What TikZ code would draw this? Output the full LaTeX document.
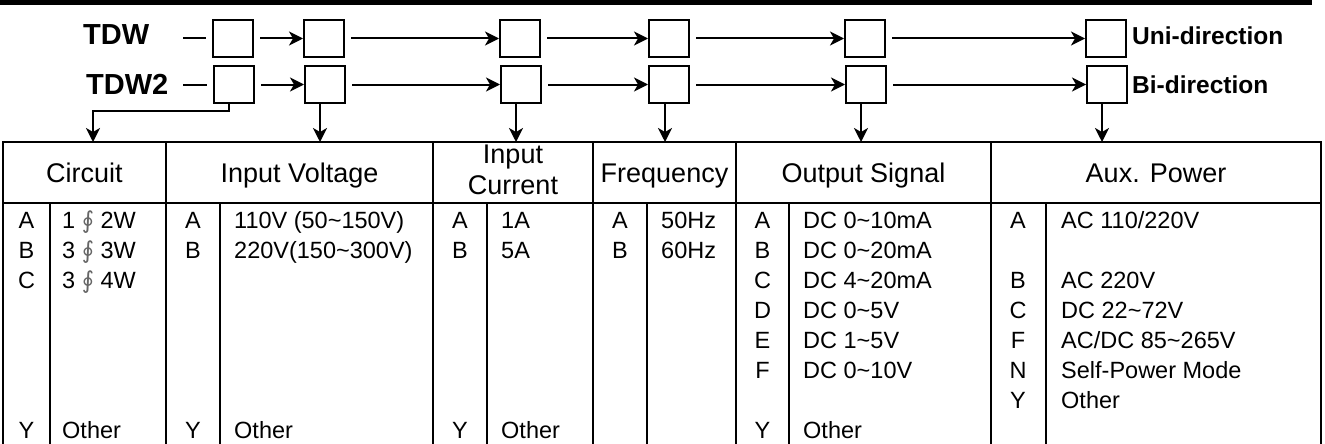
\documentclass[tikz,border=0pt]{standalone}
\usepackage{fontspec}
\setmainfont{Liberation Sans}
\newfontfamily\symfont{DejaVu Sans}
\usetikzlibrary{arrows.meta}
\newcommand{\tld}{\textasciitilde}
\newcommand{\phs}{{\symfont\color{black!60}∮}}

\begin{document}
\begin{tikzpicture}[x=1pt,y=1pt,
  box/.style={draw,line width=2pt,minimum width=40pt,minimum height=37pt},
  link/.style={line width=2pt,-{Stealth[length=14pt,width=14pt,inset=4pt]}},
  tab/.style={line width=2.2pt},
  hd/.style={anchor=base,font=\fontsize{27}{30}\selectfont},
  lt/.style={anchor=base,font=\fontsize{23.5}{27}\selectfont},
  val/.style={anchor=base west,font=\fontsize{23.5}{27}\selectfont},
  big/.style={anchor=base west,font=\bfseries\fontsize{29}{33}\selectfont},
  side/.style={anchor=base west,font=\bfseries\fontsize{24.5}{29}\selectfont}]
\tikzstyle{every node}+=[inner sep=0pt]
\useasboundingbox (0,0) rectangle (1325,-444);
\fill [black] (0,0) rectangle (1312,-5);
\node [big] (tdw) at (83,-45) {TDW};
\node [big] (tdw2) at (86,-95) {TDW2};
\coordinate (s1) at (183,-38.5);
\coordinate (s2) at (183,-84.5);
\node [box] (b11) at (233,-38.5) {};
\node [box] (b12) at (324,-38.5) {};
\node [box] (b13) at (520,-38.5) {};
\node [box] (b14) at (669,-38.5) {};
\node [box] (b15) at (865,-38.5) {};
\node [box] (b16) at (1106,-38.5) {};
\node [box] (b21) at (234,-84.5) {};
\node [box] (b22) at (325,-84.5) {};
\node [box] (b23) at (521,-84.5) {};
\node [box] (b24) at (669,-84.5) {};
\node [box] (b25) at (866,-84.5) {};
\node [box] (b26) at (1107,-84.5) {};
\node [side] (uni) at (1132,-45) {Uni-direction};
\node [side] (bi) at (1132,-93) {Bi-direction};
\draw [line width=2pt] (s1) -- ([xshift=-6pt]b11.west);
\draw [line width=2pt] (s2) -- ([xshift=-6pt]b21.west);
\draw [link] ([xshift=6pt]b11.east) -- (b12.west);
\draw [link] ([xshift=6pt]b12.east) -- (b13.west);
\draw [link] ([xshift=6pt]b13.east) -- (b14.west);
\draw [link] ([xshift=6pt]b14.east) -- (b15.west);
\draw [link] ([xshift=6pt]b15.east) -- (b16.west);
\draw [link] ([xshift=6pt]b21.east) -- (b22.west);
\draw [link] ([xshift=6pt]b22.east) -- (b23.west);
\draw [link] ([xshift=6pt]b23.east) -- (b24.west);
\draw [link] ([xshift=6pt]b24.east) -- (b25.west);
\draw [link] ([xshift=6pt]b25.east) -- (b26.west);
\coordinate (tabtop) at (0,-142);
\coordinate (cin) at (93,-142);
\draw [link] ([xshift=-5pt]b21.south) -- ++(0,-7) -| (cin);
\draw [link] ([xshift=-5pt]b22.south) -- ([xshift=-5pt]b22.south |- tabtop);
\draw [link] ([xshift=-5pt]b23.south) -- ([xshift=-5pt]b23.south |- tabtop);
\draw [link] ([xshift=-4pt]b24.south) -- ([xshift=-4pt]b24.south |- tabtop);
\draw [link] ([xshift=-5pt]b25.south) -- ([xshift=-5pt]b25.south |- tabtop);
\draw [link] ([xshift=-5pt]b26.south) -- ([xshift=-5pt]b26.south |- tabtop);
\draw [tab] (3,-444) -- (3,-142) -- (1321,-142) -- (1321,-444);
\draw [tab] (3,-203) -- (1321,-203);
\draw [tab] (166,-142) -- (166,-444);
\draw [tab] (433,-142) -- (433,-444);
\draw [tab] (593,-142) -- (593,-444);
\draw [tab] (736,-142) -- (736,-444);
\draw [tab] (991,-142) -- (991,-444);
\draw [tab] (50,-203) -- (50,-444);
\draw [tab] (220,-203) -- (220,-444);
\draw [tab] (487,-203) -- (487,-444);
\draw [tab] (647,-203) -- (647,-444);
\draw [tab] (789,-203) -- (789,-444);
\draw [tab] (1046,-203) -- (1046,-444);
\node [hd] (hcirc) at (84.5,-182.5) {Circuit};
\node [hd] (hvolt) at (299.5,-182.5) {Input Voltage};
\node [hd] (hcur1) at (513,-163) {Input};
\node [hd] (hcur2) at (513,-194) {Current};
\node [hd] (hfreq) at (664.5,-182.5) {Frequency};
\node [hd] (hout) at (863.5,-182.5) {Output Signal};
\node [hd] (haux) at (1156,-182.5) {Aux. Power};
\node [lt] (c1) at (26.5,-228) {A};
\node [lt] (c2) at (26.5,-258) {B};
\node [lt] (c3) at (26.5,-288) {C};
\node [lt] (c4) at (26.5,-438) {Y};
\node [val] (cv1) at (62,-228) {1 \phs\ 2W};
\node [val] (cv2) at (62,-258) {3 \phs\ 3W};
\node [val] (cv3) at (62,-288) {3 \phs\ 4W};
\node [val] (cv4) at (62,-438) {Other};
\node [lt] (v1) at (193,-228) {A};
\node [lt] (v2) at (193,-258) {B};
\node [lt] (v3) at (193,-438) {Y};
\node [val] (vv1) at (234,-228) {110V (50\tld150V)};
\node [val] (vv2) at (234,-258) {220V(150\tld300V)};
\node [val] (vv3) at (234,-438) {Other};
\node [lt] (i1) at (460,-228) {A};
\node [lt] (i2) at (460,-258) {B};
\node [lt] (i3) at (460,-438) {Y};
\node [val] (iv1) at (501,-228) {1A};
\node [val] (iv2) at (501,-258) {5A};
\node [val] (iv3) at (501,-438) {Other};
\node [lt] (f1) at (620,-228) {A};
\node [lt] (f2) at (620,-258) {B};
\node [val] (fv1) at (661,-228) {50Hz};
\node [val] (fv2) at (661,-258) {60Hz};
\node [lt] (o1) at (762.5,-228) {A};
\node [lt] (o2) at (762.5,-258) {B};
\node [lt] (o3) at (762.5,-288) {C};
\node [lt] (o4) at (762.5,-318) {D};
\node [lt] (o5) at (762.5,-348) {E};
\node [lt] (o6) at (762.5,-378) {F};
\node [lt] (o7) at (762.5,-438) {Y};
\node [val] (ov1) at (803,-228) {DC 0\tld10mA};
\node [val] (ov2) at (803,-258) {DC 0\tld20mA};
\node [val] (ov3) at (803,-288) {DC 4\tld20mA};
\node [val] (ov4) at (803,-318) {DC 0\tld5V};
\node [val] (ov5) at (803,-348) {DC 1\tld5V};
\node [val] (ov6) at (803,-378) {DC 0\tld10V};
\node [val] (ov7) at (803,-438) {Other};
\node [lt] (a1) at (1018,-228) {A};
\node [lt] (a2) at (1018,-288) {B};
\node [lt] (a3) at (1018,-318) {C};
\node [lt] (a4) at (1018,-348) {F};
\node [lt] (a5) at (1018,-378) {N};
\node [lt] (a6) at (1018,-408) {Y};
\node [val] (av1) at (1061,-228) {AC 110/220V};
\node [val] (av2) at (1061,-288) {AC 220V};
\node [val] (av3) at (1061,-318) {DC 22\tld72V};
\node [val] (av4) at (1061,-348) {AC/DC 85\tld265V};
\node [val] (av5) at (1061,-378) {Self-Power Mode};
\node [val] (av6) at (1061,-408) {Other};
\end{tikzpicture}
\end{document}
